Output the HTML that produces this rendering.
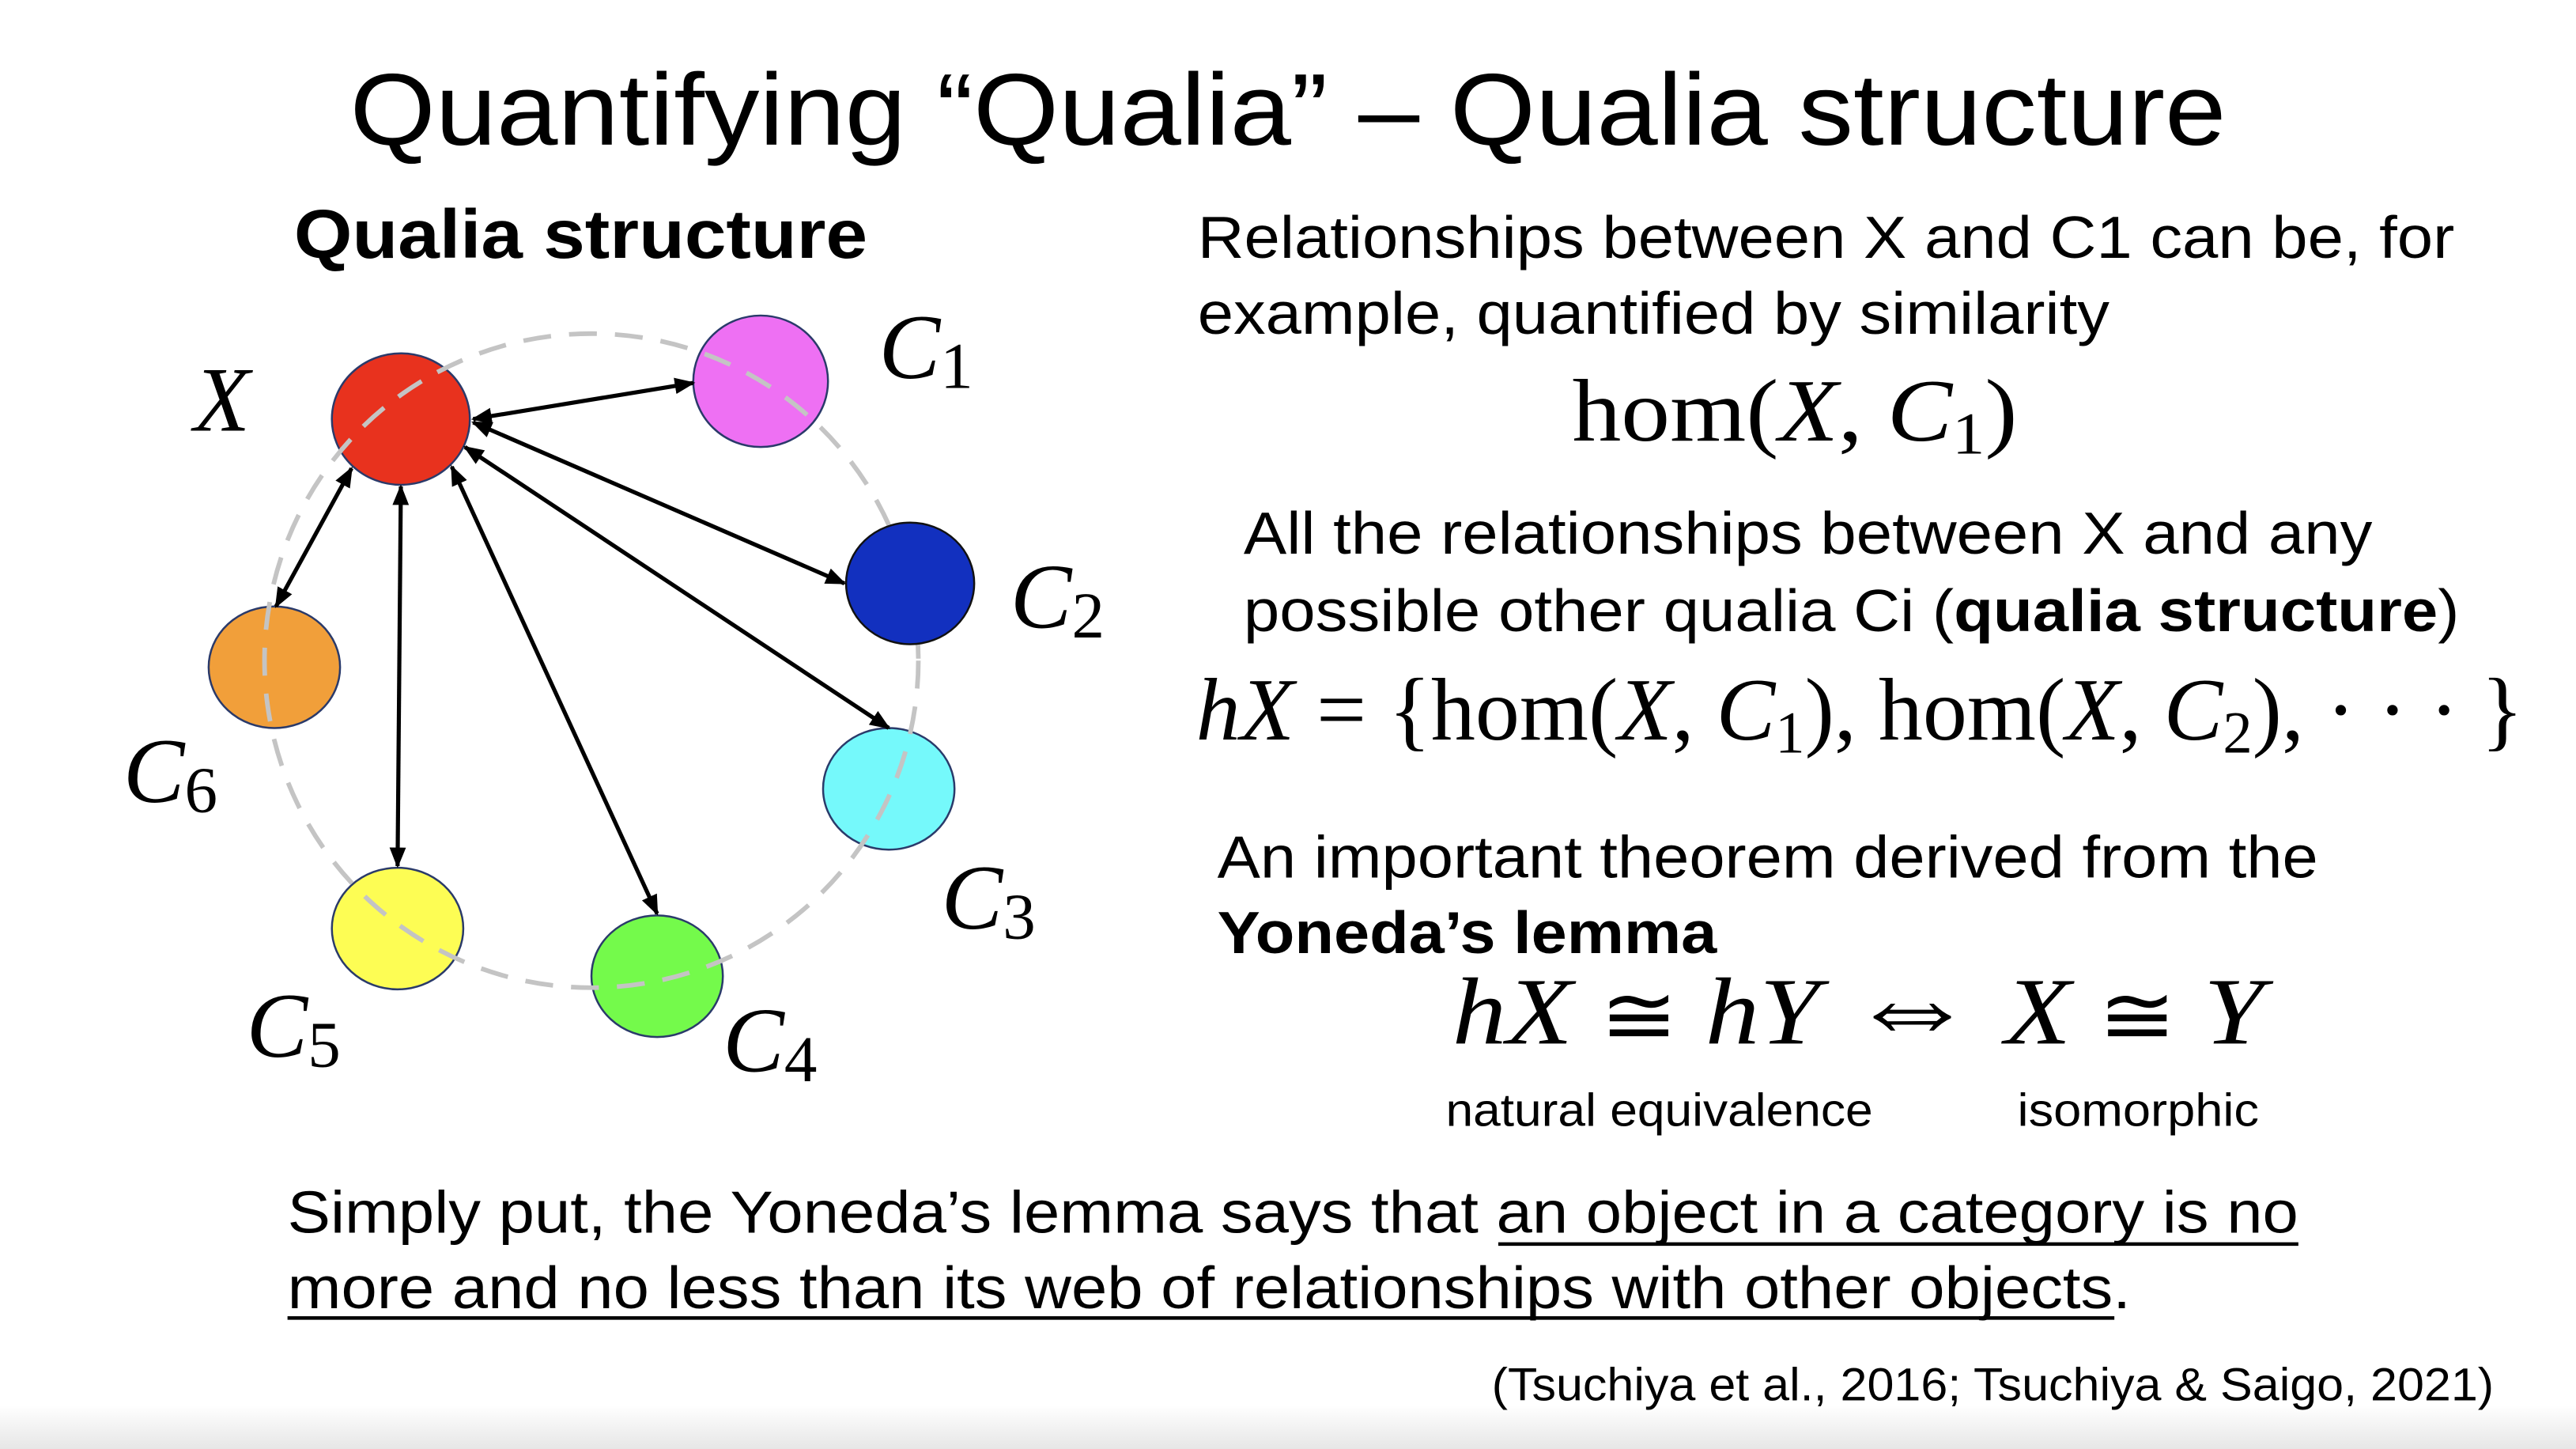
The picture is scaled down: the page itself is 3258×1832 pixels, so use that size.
<!DOCTYPE html>
<html><head><meta charset="utf-8"><style>
html,body{margin:0;padding:0;background:#fff;}
svg{display:block;}
</style></head><body>
<svg width="3258" height="1832" viewBox="0 0 1568 881.7" xmlns="http://www.w3.org/2000/svg">
<defs>
<linearGradient id="bg" x1="0" y1="0" x2="0" y2="1">
<stop offset="0" stop-color="#fff"/><stop offset="1" stop-color="#e6e6e6"/>
</linearGradient>
<marker id="ah" viewBox="0 0 10 10" refX="9" refY="5" markerWidth="5" markerHeight="5" orient="auto-start-reverse">
<path d="M0,1 L10,5 L0,9 Z" fill="#000"/>
</marker>
</defs>
<rect x="0" y="0" width="1568" height="882" fill="#fff"/>
<rect x="0" y="855" width="1568" height="27" fill="url(#bg)"/>

<text x="213" y="88" font-family="Liberation Sans, sans-serif" font-size="62" textLength="1142" lengthAdjust="spacingAndGlyphs">Quantifying “Qualia” – Qualia structure</text>
<text x="179" y="157" font-family="Liberation Sans, sans-serif" font-size="42" font-weight="bold" textLength="349" lengthAdjust="spacingAndGlyphs">Qualia structure</text>

<g stroke="#2a3a6a" stroke-width="1.2">
<ellipse cx="244" cy="255" rx="42" ry="40" fill="#e8321e"/>
<ellipse cx="463" cy="232" rx="41" ry="40" fill="#ee70f3"/>
<ellipse cx="541" cy="480" rx="40" ry="37" fill="#75f9fb"/>
<ellipse cx="400" cy="594" rx="40" ry="37" fill="#74fa4b"/>
<ellipse cx="242" cy="565" rx="40" ry="37" fill="#fdfd54"/>
<ellipse cx="167" cy="406" rx="40" ry="37" fill="#f19f3a"/>
</g>
<circle cx="360" cy="402" r="199" fill="none" stroke="#c4c4c4" stroke-width="2.8" stroke-dasharray="17 11"/>
<ellipse cx="554" cy="355" rx="39" ry="37" fill="#1230bf" stroke="#111" stroke-width="1.2"/>

<g stroke="#000" stroke-width="2.5" marker-start="url(#ah)" marker-end="url(#ah)">
<line x1="288" y1="255" x2="422" y2="233"/>
<line x1="288" y1="257" x2="514" y2="355"/>
<line x1="283" y1="272" x2="541" y2="443"/>
<line x1="275" y1="284" x2="400" y2="556"/>
<line x1="244" y1="296" x2="242" y2="527"/>
<line x1="214" y1="285" x2="168" y2="369"/>
</g>

<g font-family="Liberation Serif, serif" font-style="italic" font-size="56">
<text x="118" y="262">X</text>
<text x="535" y="230">C<tspan font-style="normal" font-size="40" dy="6">1</tspan></text>
<text x="615" y="382">C<tspan font-style="normal" font-size="40" dy="6">2</tspan></text>
<text x="573" y="565">C<tspan font-style="normal" font-size="40" dy="6">3</tspan></text>
<text x="440" y="652">C<tspan font-style="normal" font-size="40" dy="6">4</tspan></text>
<text x="150" y="643">C<tspan font-style="normal" font-size="40" dy="6">5</tspan></text>
<text x="75" y="488">C<tspan font-style="normal" font-size="40" dy="6">6</tspan></text>
</g>

<g font-family="Liberation Sans, sans-serif" font-size="36">
<text x="729" y="157" textLength="765" lengthAdjust="spacingAndGlyphs">Relationships between X and C1 can be, for</text>
<text x="729" y="203" textLength="555" lengthAdjust="spacingAndGlyphs">example, quantified by similarity</text>
<text x="757" y="337" textLength="687" lengthAdjust="spacingAndGlyphs">All the relationships between X and any</text>
<text x="757" y="384" textLength="740" lengthAdjust="spacingAndGlyphs">possible other qualia Ci (<tspan font-weight="bold">qualia structure</tspan>)</text>
<text x="741" y="534" textLength="670" lengthAdjust="spacingAndGlyphs">An important theorem derived from the</text>
<text x="741" y="580" font-weight="bold" textLength="304" lengthAdjust="spacingAndGlyphs">Yoneda’s lemma</text>
<text x="175" y="750" textLength="1224" lengthAdjust="spacingAndGlyphs">Simply put, the Yoneda’s lemma says that an object in a category is no</text>
<text x="175" y="796" textLength="1122" lengthAdjust="spacingAndGlyphs">more and no less than its web of relationships with other objects.</text>
</g>
<line x1="912" y1="757" x2="1399" y2="757" stroke="#000" stroke-width="2.2"/>
<line x1="175" y1="802" x2="1287" y2="802" stroke="#000" stroke-width="2.2"/>

<g font-family="Liberation Sans, sans-serif" font-size="28">
<text x="880" y="685" textLength="260" lengthAdjust="spacingAndGlyphs">natural equivalence</text>
<text x="1228" y="685" textLength="147" lengthAdjust="spacingAndGlyphs">isomorphic</text>
<text x="908" y="852" textLength="610" lengthAdjust="spacingAndGlyphs">(Tsuchiya et al., 2016; Tsuchiya &amp; Saigo, 2021)</text>
</g>

<g font-family="Liberation Serif, serif" font-size="54">
<text x="957" y="268" textLength="271" lengthAdjust="spacingAndGlyphs">hom(<tspan font-style="italic">X</tspan>, <tspan font-style="italic">C</tspan><tspan font-size="36" dy="8">1</tspan><tspan dy="-8">)</tspan></text>
<text x="728" y="450" textLength="808" lengthAdjust="spacingAndGlyphs"><tspan font-style="italic">hX</tspan> = {hom(<tspan font-style="italic">X</tspan>, <tspan font-style="italic">C</tspan><tspan font-size="36" dy="8">1</tspan><tspan dy="-8">), hom(</tspan><tspan font-style="italic">X</tspan>, <tspan font-style="italic">C</tspan><tspan font-size="36" dy="8">2</tspan><tspan dy="-8">), · · · }</tspan></text>
<text x="884" y="635" font-size="58" textLength="494" lengthAdjust="spacingAndGlyphs"><tspan font-style="italic">hX</tspan> <tspan font-size="50">≅</tspan> <tspan font-style="italic">hY</tspan> <tspan font-size="70">⇔</tspan> <tspan font-style="italic">X</tspan> <tspan font-size="50">≅</tspan> <tspan font-style="italic">Y</tspan></text>
</g>
</svg>
</body></html>
